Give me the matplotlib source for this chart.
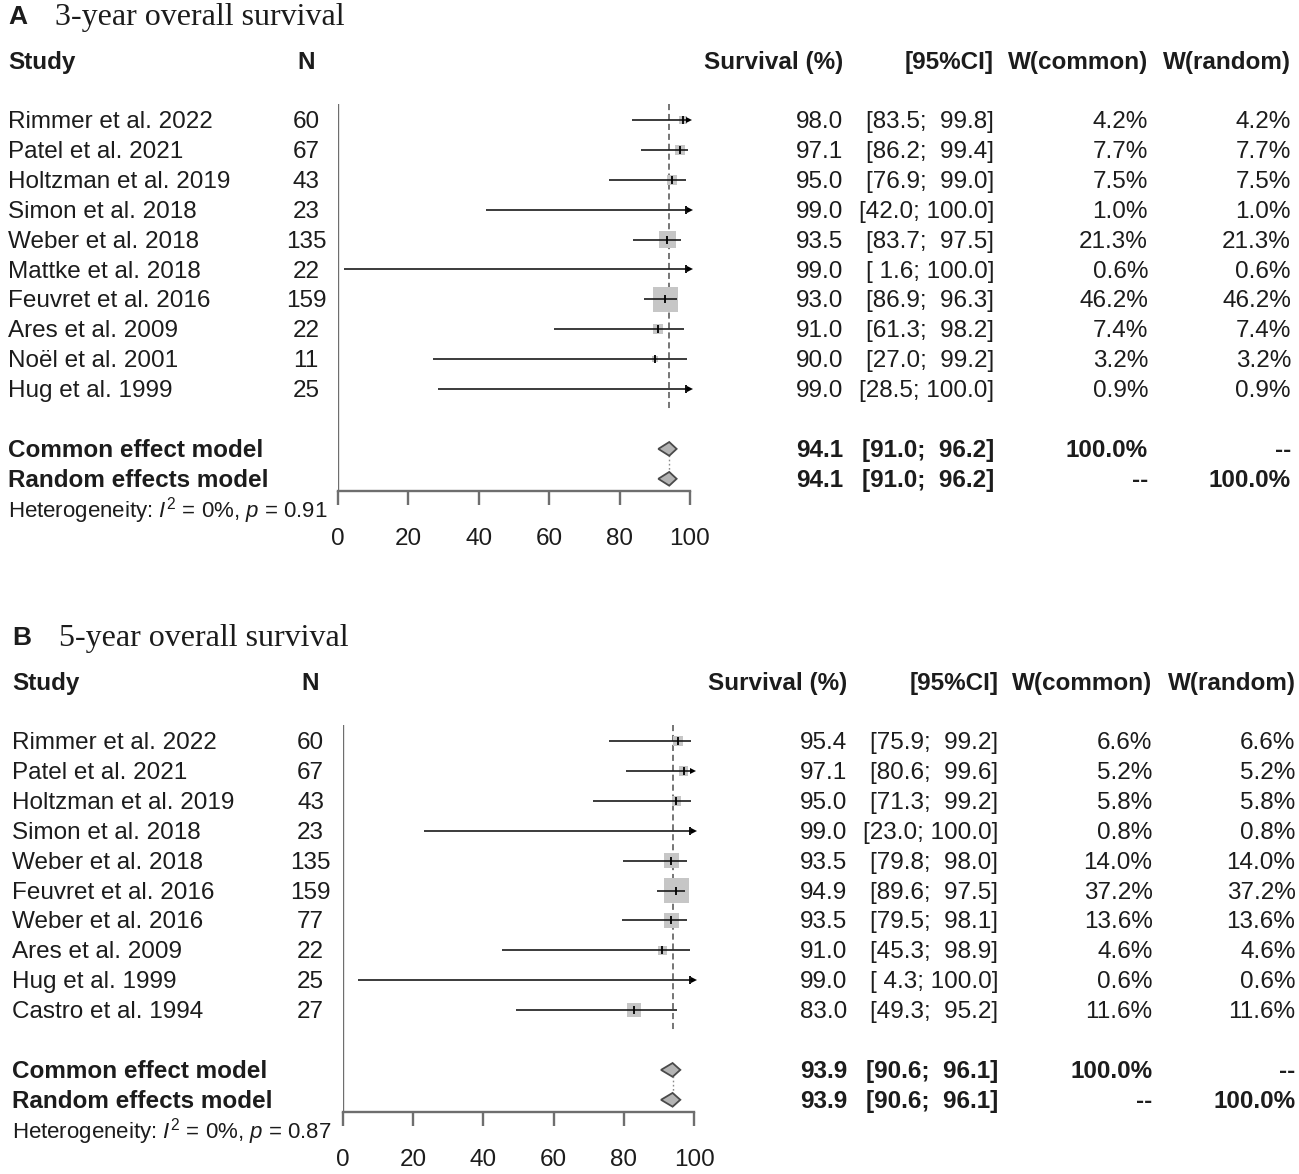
from __future__ import annotations

import matplotlib

matplotlib.use("Agg")
import matplotlib.pyplot as plt
import matplotlib.transforms as mtransforms
from matplotlib.patches import Polygon

WIDTH_PX = 1299
HEIGHT_PX = 1174
ROW_PX = 29.9
TEXT_SHIFT = 0.07  # text sits a touch lower than the marks' row centre

TEXT_COLOR = "#1c1c1c"
AXIS_COLOR = "#6e6e6e"
LINE_COLOR = "#1a1a1a"
BOX_COLOR = "#c6c6c6"
DIAMOND_COLOR = "#b4b4b4"
DIAMOND_EDGE = "#4a4a4a"
REF_COLOR = "#4f4f4f"

TICKS = [0, 20, 40, 60, 80, 100]

# Panel A: 3-year overall survival
STUDIES_3Y = [
    "Rimmer et al. 2022", "Patel et al. 2021", "Holtzman et al. 2019",
    "Simon et al. 2018", "Weber et al. 2018", "Mattke et al. 2018",
    "Feuvret et al. 2016", "Ares et al. 2009", "Noël et al. 2001",
    "Hug et al. 1999",
]
N_3Y = [60, 67, 43, 23, 135, 22, 159, 22, 11, 25]
SURV_3Y = [98.0, 97.1, 95.0, 99.0, 93.5, 99.0, 93.0, 91.0, 90.0, 99.0]
LOWER_3Y = [83.5, 86.2, 76.9, 42.0, 83.7, 1.6, 86.9, 61.3, 27.0, 28.5]
UPPER_3Y = [99.8, 99.4, 99.0, 100.0, 97.5, 100.0, 96.3, 98.2, 99.2, 100.0]
WEIGHT_3Y = [4.2, 7.7, 7.5, 1.0, 21.3, 0.6, 46.2, 7.4, 3.2, 0.9]
POOLED_3Y = (94.1, 91.0, 96.2)
PVALUE_3Y = "0.91"

# Panel B: 5-year overall survival
STUDIES_5Y = [
    "Rimmer et al. 2022", "Patel et al. 2021", "Holtzman et al. 2019",
    "Simon et al. 2018", "Weber et al. 2018", "Feuvret et al. 2016",
    "Weber et al. 2016", "Ares et al. 2009", "Hug et al. 1999",
    "Castro et al. 1994",
]
N_5Y = [60, 67, 43, 23, 135, 159, 77, 22, 25, 27]
SURV_5Y = [95.4, 97.1, 95.0, 99.0, 93.5, 94.9, 93.5, 91.0, 99.0, 83.0]
LOWER_5Y = [75.9, 80.6, 71.3, 23.0, 79.8, 89.6, 79.5, 45.3, 4.3, 49.3]
UPPER_5Y = [99.2, 99.6, 99.2, 100.0, 98.0, 97.5, 98.1, 98.9, 100.0, 95.2]
WEIGHT_5Y = [6.6, 5.2, 5.8, 0.8, 14.0, 37.2, 13.6, 4.6, 0.6, 11.6]
POOLED_5Y = (93.9, 90.6, 96.1)
PVALUE_5Y = "0.87"


def fmt_ci(lo: float, hi: float) -> str:
    lo_s = f"{lo:.1f}"
    hi_s = f"{hi:.1f}"
    lo_s = (" " + lo_s) if len(lo_s) < 4 else lo_s
    hi_s = (" " + hi_s) if len(hi_s) < 5 else hi_s
    return f"[{lo_s}; {hi_s}]"


def draw_panel(fig, letter, title, studies, n, surv, lower, upper, weight,
               pooled, pvalue, row0, dx, x0, x1):
    top_px = row0 - 16
    axis_px = row0 + 371
    ax = fig.add_axes([
        x0 / WIDTH_PX,
        1 - axis_px / HEIGHT_PX,
        (x1 - x0) / WIDTH_PX,
        (axis_px - top_px) / HEIGHT_PX,
    ])
    ax.set_xlim(0, 100)
    ax.set_ylim((axis_px - row0) / ROW_PX, (top_px - row0) / ROW_PX)
    ax.patch.set_alpha(0)

    trans = mtransforms.blended_transform_factory(fig.transFigure, ax.transData)

    def put(px, row, s, ha="left", bold=False, size=17.5, **kw):
        ax.text((px + dx) / WIDTH_PX, row + TEXT_SHIFT, s, transform=trans, ha=ha,
                va="center", fontsize=size,
                fontweight="bold" if bold else "normal",
                color=TEXT_COLOR, clip_on=False, **kw)

    k = len(studies)
    rows = list(range(k))
    common_row, random_row = k + 1, k + 2

    # titles and headers
    put(8, -3.5, letter, bold=True, size=19)
    put(55, -3.5, title, size=23, family="Liberation Serif")
    put(8, -2, "Study", bold=True)
    put(306, -2, "N", ha="center", bold=True)
    put(843, -2, "Survival (%)", ha="right", bold=True)
    put(994, -2, "[95%CI]", ha="right", bold=True)
    put(1148, -2, "W(common)", ha="right", bold=True)
    put(1291, -2, "W(random)", ha="right", bold=True)

    for r, name, nn, s, lo, hi, w in zip(rows, studies, n, surv, lower, upper, weight):
        put(8, r, name)
        put(306, r, str(nn), ha="center")
        put(843, r, f"{s:.1f}", ha="right")
        put(994, r, fmt_ci(lo, hi), ha="right")
        put(1148, r, f"{w:.1f}%", ha="right")
        put(1291, r, f"{w:.1f}%", ha="right")

    est, plo, phi = pooled
    for r, label, wc, wr in ((common_row, "Common effect model", "100.0%", "--"),
                             (random_row, "Random effects model", "--", "100.0%")):
        put(8, r, label, bold=True)
        put(843, r, f"{est:.1f}", ha="right", bold=True)
        put(994, r, fmt_ci(plo, phi), ha="right", bold=True)
        put(1148, r, wc, ha="right", bold=True)
        put(1291, r, wr, ha="right", bold=True)
    put(8, k + 3, r"Heterogeneity: $I^2$ = 0%, $p$ = " + pvalue, size=16)

    # reference lines
    ax.axvline(0, color=AXIS_COLOR, lw=1.7, zorder=1)
    ax.plot([est, est], [(top_px - row0) / ROW_PX, k - 0.35], color=REF_COLOR,
            lw=1.1, dashes=(4, 2.5), zorder=1)
    ax.plot([est, est], [common_row + 0.22, random_row - 0.22], color="#8a8a8a",
            lw=1.0, dashes=(1.2, 1.8), zorder=1)

    # study squares sized by weight
    wmax = max(weight)
    sizes = [(25 * (w / wmax) ** 0.5 * 0.72) ** 2 for w in weight]
    ax.scatter(surv, rows, s=sizes, marker="s", color=BOX_COLOR, linewidths=0,
               zorder=2, clip_on=False)
    ax.hlines(rows, lower, upper, color=LINE_COLOR, lw=1.2, zorder=3)
    ax.plot(surv, rows, ls="none", marker="|", ms=6, mew=1.3, color="black", zorder=4)
    for r, hi in zip(rows, upper):
        if hi >= 99.5:
            ax.plot(hi, r, marker=">", ms=5, color="black", mew=0, zorder=4,
                    clip_on=False)

    # pooled diamonds
    for r in (common_row, random_row):
        ax.add_patch(Polygon([(plo, r), (est, r - 0.23), (phi, r), (est, r + 0.23)],
                             closed=True, facecolor=DIAMOND_COLOR,
                             edgecolor=DIAMOND_EDGE, lw=1.3, zorder=3))

    for side in ("top", "right", "left"):
        ax.spines[side].set_visible(False)
    ax.spines["bottom"].set_color(AXIS_COLOR)
    ax.spines["bottom"].set_linewidth(1.7)
    ax.spines["bottom"].set_bounds(0, 100)
    ax.set_yticks([])
    ax.set_xticks(TICKS)
    ax.tick_params(axis="x", length=10, width=1.7, color=AXIS_COLOR, pad=17,
                   labelsize=17.5, labelcolor=TEXT_COLOR)
    return ax


plt.rcParams.update({
    "font.family": ["Liberation Sans", "DejaVu Sans"],
    "mathtext.fontset": "custom",
    "mathtext.rm": "Liberation Sans",
    "mathtext.it": "Liberation Sans:italic",
    "mathtext.bf": "Liberation Sans:bold",
})

fig = plt.figure(figsize=(WIDTH_PX / 100, HEIGHT_PX / 100), dpi=100)
fig.patch.set_facecolor("white")

draw_panel(fig, "A", "3-year overall survival", STUDIES_3Y, N_3Y, SURV_3Y,
           LOWER_3Y, UPPER_3Y, WEIGHT_3Y, POOLED_3Y, PVALUE_3Y,
           row0=120, dx=0, x0=338, x1=690)
draw_panel(fig, "B", "5-year overall survival", STUDIES_5Y, N_5Y, SURV_5Y,
           LOWER_5Y, UPPER_5Y, WEIGHT_5Y, POOLED_5Y, PVALUE_5Y,
           row0=741, dx=4.5, x0=343, x1=694)

fig.savefig("out.png", dpi=100)
plt.close(fig)
